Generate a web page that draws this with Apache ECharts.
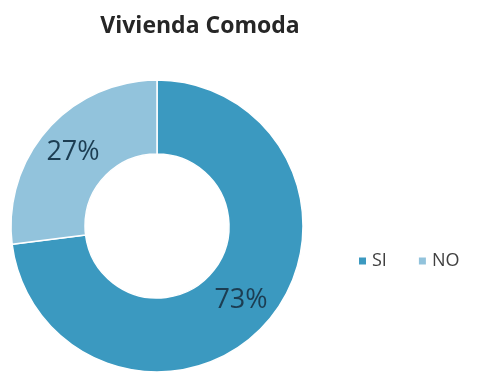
<!DOCTYPE html>
<html>
<head>
<meta charset="utf-8">
<script src="https://cdn.jsdelivr.net/npm/echarts@6/dist/echarts.min.js"></script>
<style>
  html, body { margin: 0; padding: 0; background: #ffffff; }
  #chart { width: 484px; height: 373px; }
</style>
</head>
<body>
<div id="chart"></div>
<script>
// Respuestas a "Vivienda Comoda" (porcentaje)
const categories = ['SI', 'NO'];
const values = [73, 27];
const colors = ['#3b99c0', '#92c3dc'];

const chart = echarts.init(document.getElementById('chart'), null, { renderer: 'canvas' });

chart.setOption({
  animation: false,
  backgroundColor: '#ffffff',
  title: {
    text: 'Vivienda Comoda',
    left: 195,
    textAlign: 'center',
    top: 10,
    textStyle: {
      fontFamily: 'Open Sans',
      fontWeight: 'bold',
      fontSize: 23,
      color: '#262626'
    }
  },
  legend: {
    data: categories,
    left: 352,
    top: 247,
    icon: 'rect',
    itemWidth: 9,
    itemHeight: 9,
    itemGap: 30,
    textStyle: {
      fontFamily: 'Open Sans',
      fontSize: 18,
      color: '#404040'
    }
  },
  series: [{
    type: 'pie',
    center: [157, 226],
    radius: [72, 146],
    startAngle: 90,
    clockwise: true,
    color: colors,
    itemStyle: { borderColor: '#ffffff', borderWidth: 1.5 },
    label: {
      show: true,
      position: 'inside',
      formatter: '{d}%',
      fontFamily: 'Open Sans',
      fontSize: 27,
      color: '#1c3d52'
    },
    labelLine: { show: false },
    data: categories.map((c, i) => ({ name: c, value: values[i] }))
  }]
});
</script>
</body>
</html>
